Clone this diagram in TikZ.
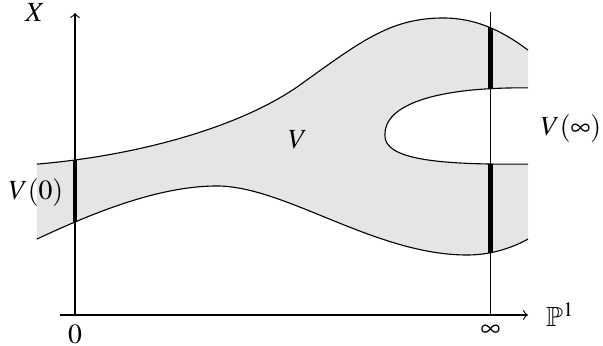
\documentclass[tikz,border=0pt]{standalone}
\usepackage{amsmath,amssymb}
\usepackage{mathptmx}
\usepackage{tikz}

% boundary pieces of V (each starts after its first point)
\newcommand{\toprest}{.. controls (2,5.3) and (5.5,6.24) .. (7.5,7.67) .. controls (9.5,9.1) and (10.5,9.9) .. (12.27,9.9) .. controls (13.5,9.9) and (14.4,9.35) .. (15.1,8.83)}
\newcommand{\holerest}{.. controls (12,7.6) and (10.3,7.0) .. (10.33,6.0) .. controls (10.3,5.2) and (12,5.0) .. (15.1,5.03)}
\newcommand{\botrest}{.. controls (14.5,2.2) and (13.8,2.0) .. (13.07,2.0) .. controls (10,2.0) and (7,4.3) .. (4.73,4.3) .. controls (3,4.3) and (1,3.6) .. (-1.27,2.53)}
\newcommand{\regionV}{(-1.27,5.03) \toprest -- (15.1,7.57) \holerest -- (15.1,2.53) \botrest -- cycle}

\begin{document}
\begin{tikzpicture}[scale=0.38, fiber/.style={line width=1.5pt}, bdry/.style={thin}]
  \useasboundingbox (-2.5,-1.033) rectangle (17.6,10.5);
  \coordinate (O) at (0,0); \coordinate (Inf) at (13.85,0);
  \coordinate (Xtop) at (0,10.07); \coordinate (Itop) at (13.85,10.1);
  \coordinate (Pstart) at (-0.5,0); \coordinate (Pend) at (15.1,0);
  \fill[gray!20] \regionV;
  \draw[->] (Pstart) -- (Pend); \draw[->] (O) -- (Xtop); \draw (Inf) -- (Itop);
  \begin{scope}
    \clip \regionV;
    \draw[fiber] (O) -- (Xtop); \draw[fiber] (Inf) -- (Itop);
  \end{scope}
  \draw[bdry] (-1.27,5.03) \toprest; \draw[bdry] (15.1,7.57) \holerest; \draw[bdry] (15.1,2.53) \botrest;
  \node (lX) at (-1.33,10.07) {$X$}; \node (lV) at (7.43,5.83) {$V$};
  \node (lV0) at (-1.3,4.07) {$V(0)$}; \node (lVinf) at (16.53,6.23) {$V(\infty)$};
  \node[below] (l0) at (O) {$0$}; \node[below] (linf) at (Inf) {$\infty$};
  \node[right=3pt] (lP) at (Pend) {$\mathbb{P}^1$};
\end{tikzpicture}
\end{document}
